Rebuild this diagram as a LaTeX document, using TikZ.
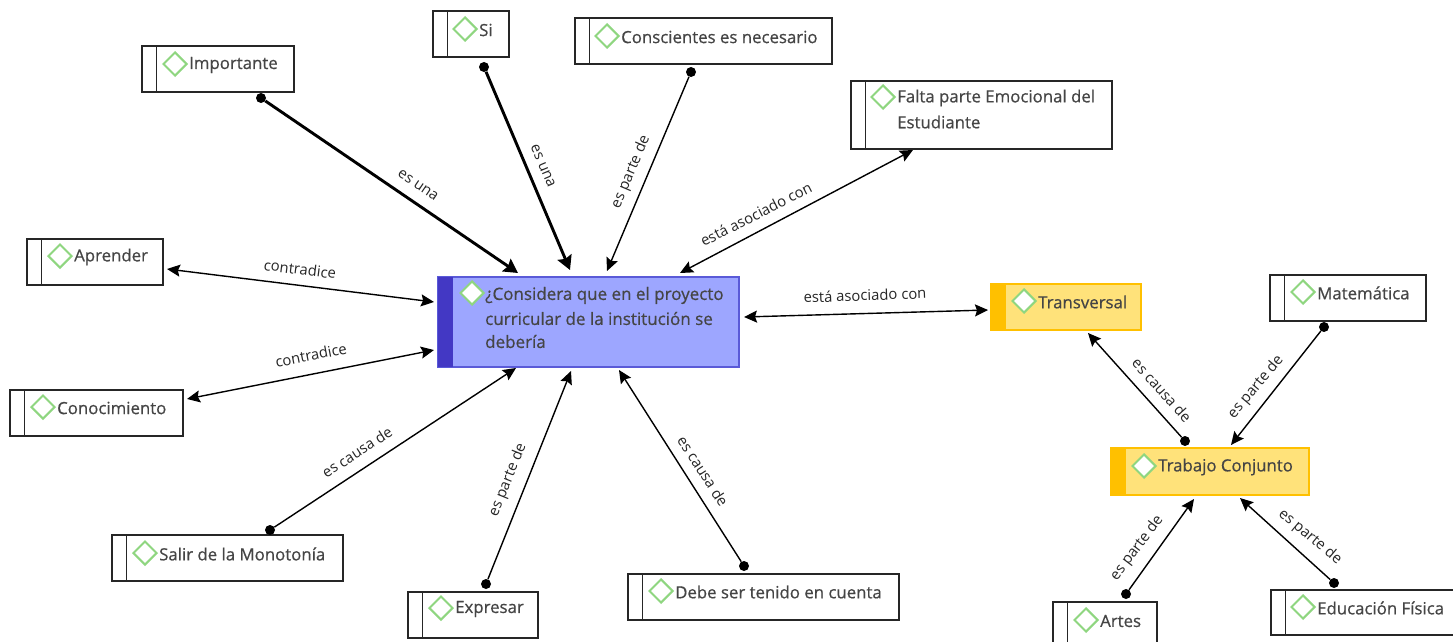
\documentclass[tikz,border=0pt]{standalone}
\usepackage{fontspec}
\setmainfont{Open Sans}
\newfontfamily\ttlfont[FakeBold=0.6]{Open Sans}
\usetikzlibrary{arrows.meta,shapes.geometric}
\definecolor{txt}{HTML}{454545}
\definecolor{dia}{HTML}{8FD680}
\definecolor{blueF}{HTML}{9DA6FF}
\definecolor{blueS}{HTML}{4338C4}
\definecolor{blueL}{HTML}{5A5AD8}
\definecolor{yellowF}{HTML}{FFE27A}
\definecolor{yellowS}{HTML}{FFC000}
\tikzset{
 x=1pt,y=-1pt,
 boxplain/.style={draw=black!85,line width=1.6pt,fill=white},
 boxblue/.style={draw=blueL,line width=1.3pt,fill=blueF},
 boxyellow/.style={draw=yellowS,line width=1.3pt,fill=yellowF},
 stripeplain/.style={draw=black!85,line width=1.6pt},
 stripeblue/.style={fill=blueS},
 stripeyellow/.style={fill=yellowS},
 mark box/.style={diamond,draw=dia,line width=2pt,fill=white,inner sep=0pt,minimum width=24pt,minimum height=24pt},
 title/.style={anchor=west,inner sep=0pt,text=txt,font=\ttlfont\fontsize{16.8}{24}\selectfont,align=left},
 centertitle/.style={title,font=\ttlfont\fontsize{17}{24}\selectfont},
 lbl/.style={inner sep=0pt,text=black!85,font=\fontsize{14.8}{16}\selectfont},
 knob/.style={circle,fill=black,inner sep=0pt,minimum size=10pt},
 thinlink/.style={line width=1.4pt,black},
 thicklink/.style={line width=2.9pt,black},
 tip/.style={-{Stealth[length=13pt,width=12pt,inset=2pt]}},
 tiptwo/.style={{Stealth[length=13pt,width=12pt,inset=2pt]}-{Stealth[length=13pt,width=12pt,inset=2pt]}},
 tipthick/.style={-{Stealth[length=14pt,width=15pt,inset=2pt]}},
}
% name, kind, x1,y1,x2,y2, diamond x,y, text
\newcommand{\topic}[9]{%
 \node[box#2,rectangle,inner sep=0pt,outer sep=0pt,minimum width=#5pt-#3pt,minimum height=#6pt-#4pt,anchor=north west] (#1) at (#3,#4) {};
 \path[stripe#2] (#3,#4) rectangle (#3+14.5,#6);
 \node[mark box] (#1M) at (#7,#8) {};
 \node[title] (#1T) at (#7+14,#8+1) {#9};
}
\begin{document}
\begin{tikzpicture}
\useasboundingbox (0,0) rectangle (1453,642);
\clip (0,0) rectangle (1453,642);
\fill[white] (0,0) rectangle (1453,642);

\topic{imp}{plain}{142}{46}{294}{92}{175}{64}{Importante}
\topic{si}{plain}{433}{11}{509}{57}{465}{29}{Si}
\topic{con}{plain}{575}{18}{832}{64}{607}{36}{Conscientes es necesario}
\topic{fal}{plain}{851}{81}{1112}{149}{883}{97}{Falta parte Emocional del}
\node[title] (falB) at (897,122) {Estudiante};
\topic{apr}{plain}{27}{239}{163}{285}{60}{256}{Aprender}
\topic{cno}{plain}{10}{390}{183}{436}{43}{407}{Conocimiento}
\topic{sal}{plain}{112}{535}{343}{581}{145}{553}{Salir de la Monotonía}
\topic{exp}{plain}{408}{592}{538}{638}{441}{608}{Expresar}
\topic{deb}{plain}{628}{574}{899}{620}{661}{591}{Debe ser tenido en cuenta}
\topic{mat}{plain}{1270}{275}{1426}{321}{1303}{292}{Matemática}
\topic{art}{plain}{1053}{602}{1157}{648}{1086}{620}{Artes}
\topic{edu}{plain}{1271}{590}{1462}{635}{1303}{607}{Educación Física}
\topic{tra}{yellow}{991}{284}{1141}{330}{1024}{301}{Transversal}
\topic{tcj}{yellow}{1111}{448}{1309}{495}{1144}{466}{Trabajo Conjunto}
\topic{cen}{blue}{438}{277}{739}{367}{472}{293}{}
\node[centertitle] (cenA) at (485,295.5) {¿Considera que en el proyecto};
\node[centertitle] (cenB) at (485,318.5) {curricular de la institución se};
\node[centertitle] (cenC) at (485,341.5) {debería};

% knobs
\node[knob] (kImp) at (261,98) {};
\node[knob] (kSi) at (484,67) {};
\node[knob] (kCon) at (691,72) {};
\node[knob] (kSal) at (270,530) {};
\node[knob] (kExp) at (486,584) {};
\node[knob] (kDeb) at (744,566) {};
\node[knob] (kMat) at (1324,327) {};
\node[knob] (kTcj) at (1185,441) {};
\node[knob] (kArt) at (1126,594) {};
\node[knob] (kEdu) at (1334,583) {};

% arrow ends
\coordinate (eImp) at (518,273);
\coordinate (eSi) at (570,270);
\coordinate (eCon) at (607,271);
\coordinate (eFalA) at (913,150);
\coordinate (eFalB) at (680,273);
\coordinate (eAprA) at (167,269);
\coordinate (eAprB) at (434,302);
\coordinate (eCnoA) at (187,399);
\coordinate (eCnoB) at (434,350);
\coordinate (eSal) at (516,368);
\coordinate (eExp) at (571,371);
\coordinate (eDeb) at (619,370);
\coordinate (eTraA) at (744,317);
\coordinate (eTraB) at (988,310);
\coordinate (eMat) at (1231,445);
\coordinate (eTcj) at (1088,333);
\coordinate (eArt) at (1194,499);
\coordinate (eEdu) at (1240,498);

\draw[thicklink,tipthick] (kImp) -- (eImp);
\draw[thicklink,tipthick] (kSi) -- (eSi);
\draw[thinlink,tip] (kCon) -- (eCon);
\draw[thinlink,tiptwo] (eFalA) -- (eFalB);
\draw[thinlink,tiptwo] (eAprA) -- (eAprB);
\draw[thinlink,tiptwo] (eCnoA) -- (eCnoB);
\draw[thinlink,tip] (kSal) -- (eSal);
\draw[thinlink,tip] (kExp) -- (eExp);
\draw[thinlink,tip] (kDeb) -- (eDeb);
\draw[thinlink,tiptwo] (eTraA) -- (eTraB);
\draw[thinlink,tip] (kMat) -- (eMat);
\draw[thinlink,tip] (kTcj) -- (eTcj);
\draw[thinlink,tip] (kArt) -- (eArt);
\draw[thinlink,tip] (kEdu) -- (eEdu);

% labels
\node[lbl,rotate=-34] (l1) at (418,185) {es una};
\node[lbl,rotate=-67] (l2) at (543,166) {es una};
\node[lbl,rotate=67] (l3) at (631,172) {es parte de};
\node[lbl,rotate=27] (l4) at (756,214) {está asociado con};
\node[lbl,rotate=-7] (l5) at (300,269) {contradice};
\node[lbl,rotate=11] (l6) at (311,355) {contradice};
\node[lbl,rotate=33] (l7) at (357,452) {es causa de};
\node[lbl,rotate=68] (l8) at (508,480) {es parte de};
\node[lbl,rotate=-57] (l9) at (703,471) {es causa de};
\node[lbl,rotate=2] (l10) at (865,295) {está asociado con};
\node[lbl,rotate=50] (l11) at (1256,387) {es parte de};
\node[lbl,rotate=-48] (l12) at (1162,390) {es causa de};
\node[lbl,rotate=53] (l13) at (1137,548) {es parte de};
\node[lbl,rotate=-40] (l14) at (1310,537) {es parte de};
\end{tikzpicture}
\end{document}
